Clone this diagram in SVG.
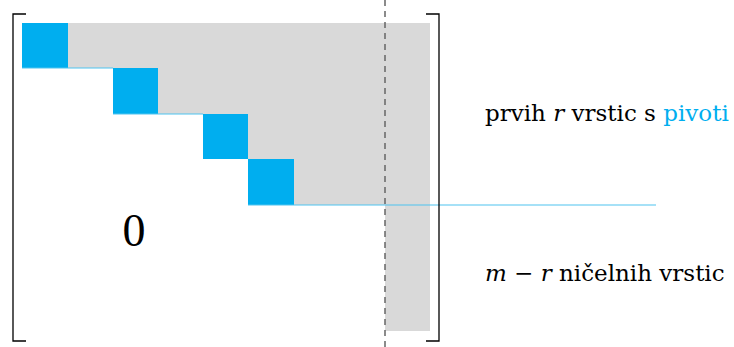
<svg xmlns="http://www.w3.org/2000/svg" width="734" height="347" viewBox="0 0 734 347">
<style>
.gray{fill:#d9d9d9}
.piv{fill:#00aeef}
.bl{stroke:#4fc3f0;stroke-width:1.2;fill:none}
.br{stroke:#000;stroke-width:1.3;fill:none}
.c{fill:#00aeef}
.lab{font-family:'DejaVu Serif',serif;font-size:23px;fill:#000}
</style>
<rect width="734" height="347" fill="#fff"/>
<g id="shade">
<path class="gray" d="M22,23 H430 V331 H385 V205 H294 V159 H248 V114 H158 V68 H68 V68 H22 Z"/>
</g>
<g id="pivots">
<rect class="piv" x="22" y="23" width="46" height="45"/>
<rect class="piv" x="113" y="68" width="45" height="46"/>
<rect class="piv" x="203" y="114" width="45" height="45"/>
<rect class="piv" x="248" y="159" width="46" height="46"/>
</g>
<g id="connectors">
<path class="bl" d="M22,68 H113 M113,114 H203 M248,205 H656"/>
<line x1="385" y1="0" x2="385" y2="347" stroke="#666" stroke-width="1.5" stroke-dasharray="6,5"/>
</g>
<g id="brackets">
<path class="br" d="M26,14 H13 V341 H26" stroke="#555"/>
<path class="br" d="M426,14 H439 V341 H426"/>
</g>
<g id="zero"><text x="134" y="246" font-family="'Liberation Serif', serif" font-size="46" text-anchor="middle" fill="#000">0</text></g>
<g id="label-top"><text class="lab" x="485" y="121">prvih <tspan font-style="italic">r</tspan> vrstic s <tspan class="c">pivoti</tspan></text></g>
<g id="label-bottom"><text class="lab" x="485" y="281"><tspan font-style="italic">m</tspan> − <tspan font-style="italic">r</tspan> ničelnih vrstic</text></g>
</svg>
